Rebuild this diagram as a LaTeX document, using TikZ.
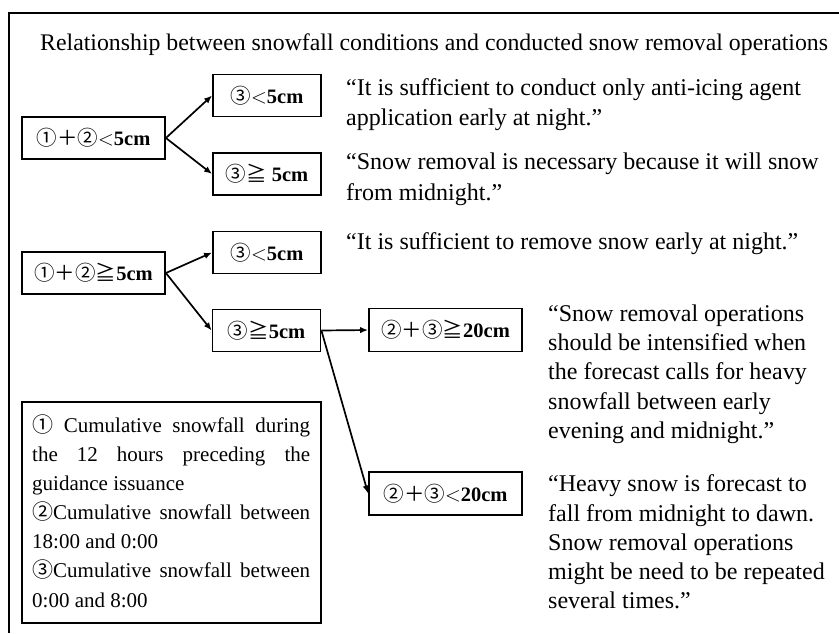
\documentclass[tikz,border=0pt]{standalone}
\usepackage{fontspec}
\setmainfont{Liberation Serif}
\newfontfamily\cjk{Noto Sans CJK JP}
\usetikzlibrary{arrows.meta}
\newcommand{\cj}[1]{{\cjk\mdseries #1}}
\newcommand{\lessmark}{\mbox{$\mathsurround=0pt<$}}
\begin{document}
\begin{tikzpicture}[x=1pt,y=-1pt,
  box/.style={draw, line width=1.8pt, inner sep=0pt, font=\fontsize{20.5}{22}\selectfont\bfseries},
  wbox/.style={box, minimum width=143pt, minimum height=42pt},
  nbox/.style={box, minimum width=108pt, minimum height=42pt},
  lbox/.style={box, minimum width=153pt, minimum height=43pt},
  arr/.style={line width=1.7pt, -{Latex[length=8pt,width=6.5pt]}},
  qline/.style={anchor=base west, inner sep=0pt, font=\fontsize{24}{26}\selectfont},
  tline/.style={anchor=base west, inner sep=0pt, font=\fontsize{23.8}{26}\selectfont},
  lline/.style={anchor=base west, inner sep=0pt, font=\fontsize{21}{23}\selectfont},
]
\useasboundingbox (0,0) rectangle (839,633);
\fill[white] (0,0) rectangle (839,633);
% outer frame (top and left edges only)
\coordinate (fr1) at (9,633);
\coordinate (fr2) at (9,13);
\coordinate (fr3) at (839,13);
\draw[line width=1.5pt] (fr1) -- (fr2) -- (fr3);
% title
\node[tline] (title) at (40,50) {Relationship between snowfall conditions and conducted snow removal operations};
% condition boxes
\node[wbox] (A) at (93.5,138) {\cj{①＋②}\lessmark 5cm};
\node[nbox] (B) at (267,95.5) {\cj{③}\lessmark 5cm};
\node[nbox] (C) at (267,174) {\cj{③≧} 5cm};
\node[wbox] (D) at (93.5,273) {\cj{①＋②≧}5cm};
\node[nbox] (E) at (267,252.5) {\cj{③}\lessmark 5cm};
\node[nbox] (F) at (266.5,330.5) {\cj{③≧}5cm};
\node[lbox] (G) at (445.5,330) {\cj{②＋③≧}20cm};
\node[lbox] (H) at (445.5,493.5) {\cj{②＋③}\lessmark 20cm};
% connectors
\draw[arr] (A.east) -- (B.west);
\draw[arr] (A.east) -- (C.west);
\draw[arr] (D.east) -- (E.west);
\draw[arr] (D.east) -- (F.west);
\draw[arr] (F.east) -- (G.west);
\draw[arr] (F.east) -- (H.west);
% quotes
\node[qline] (q1a) at (346,95) {“It is sufficient to conduct only anti-icing agent};
\node[qline] (q1b) at (346,125) {application early at night.”};
\node[qline] (q2a) at (346,169) {“Snow removal is necessary because it will snow};
\node[qline] (q2b) at (346,200) {from midnight.”};
\node[qline] (q3a) at (346,249) {“It is sufficient to remove snow early at night.”};
\node[qline] (q4a) at (548,321) {“Snow removal operations};
\node[qline] (q4b) at (548,350) {should be intensified when};
\node[qline] (q4c) at (548,379) {the forecast calls for heavy};
\node[qline] (q4d) at (548,409) {snowfall between early};
\node[qline] (q4e) at (548,438) {evening and midnight.”};
\node[qline] (q5a) at (548,491) {“Heavy snow is forecast to};
\node[qline] (q5b) at (548,521) {fall from midnight to dawn.};
\node[qline] (q5c) at (548,550) {Snow removal operations};
\node[qline] (q5d) at (548,579) {might be need to be repeated};
\node[qline] (q5e) at (548,608) {several times.”};
% legend
\node[draw, line width=1.8pt, minimum width=299pt, minimum height=221pt, inner sep=0pt] (leg) at (171.5,512.5) {};
\node[lline] (l1) at (32,432) {\makebox[278pt][s]{\cj{①} Cumulative snowfall during}};
\node[lline] (l2) at (32,461) {\makebox[278pt][s]{the 12 hours preceding the}};
\node[lline] (l3) at (32,490) {guidance issuance};
\node[lline] (l4) at (32,519) {\makebox[278pt][s]{\cj{②}Cumulative snowfall between}};
\node[lline] (l5) at (32,548) {18:00 and 0:00};
\node[lline] (l6) at (32,577) {\makebox[278pt][s]{\cj{③}Cumulative snowfall between}};
\node[lline] (l7) at (32,607) {0:00 and 8:00};
\end{tikzpicture}
\end{document}
